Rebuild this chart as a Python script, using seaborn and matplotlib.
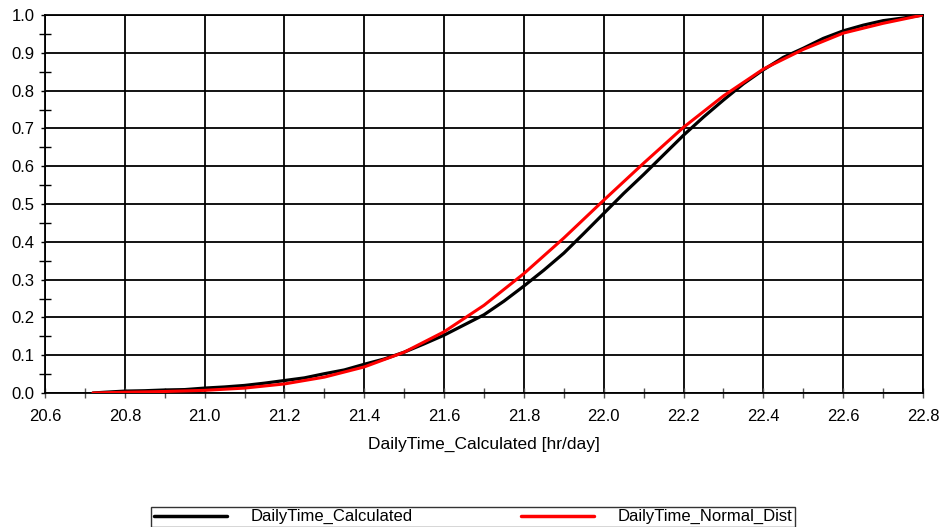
import matplotlib
matplotlib.use("Agg")
import matplotlib.pyplot as plt
from matplotlib.ticker import MultipleLocator, FormatStrFormatter
import seaborn as sns
import pandas as pd

# ---- data ----
calc_x = [20.72, 20.75, 20.8, 20.85, 20.9, 20.95, 21.0, 21.05, 21.1, 21.15, 21.2, 21.25,
          21.3, 21.35, 21.4, 21.45, 21.5, 21.55, 21.6, 21.65, 21.7, 21.75, 21.8, 21.85,
          21.9, 21.95, 22.0, 22.05, 22.1, 22.15, 22.2, 22.25, 22.3, 22.35, 22.4, 22.45,
          22.5, 22.55, 22.6, 22.65, 22.7, 22.75, 22.8]
calc_y = [0.0, 0.002, 0.005, 0.006, 0.008, 0.009, 0.013, 0.016, 0.020, 0.026, 0.033, 0.040,
          0.051, 0.061, 0.076, 0.090, 0.108, 0.130, 0.153, 0.180, 0.207, 0.243, 0.283, 0.325,
          0.370, 0.422, 0.475, 0.528, 0.578, 0.630, 0.682, 0.730, 0.775, 0.818, 0.855, 0.888,
          0.912, 0.938, 0.958, 0.973, 0.985, 0.992, 1.0]

norm_x = [20.72, 20.8, 20.9, 21.0, 21.1, 21.2, 21.3, 21.4, 21.5, 21.6, 21.7, 21.8,
          21.9, 22.0, 22.1, 22.2, 22.3, 22.4, 22.5, 22.6, 22.7, 22.8]
norm_y = [0.0, 0.002, 0.004, 0.007, 0.013, 0.024, 0.042, 0.069, 0.108, 0.162, 0.232, 0.316,
          0.410, 0.510, 0.608, 0.703, 0.786, 0.857, 0.909, 0.952, 0.978, 1.0]

series_names = ["DailyTime_Calculated", "DailyTime_Normal_Dist"]
series_colors = ["#000000", "#ff0000"]
x_label = "DailyTime_Calculated [hr/day]"

sns.set_style("white")
plt.rcParams["font.family"] = ["Liberation Sans", "DejaVu Sans"]
plt.rcParams["text.color"] = "black"
plt.rcParams["axes.labelcolor"] = "black"

fig = plt.figure(figsize=(9.47, 5.27), dpi=100)
ax = fig.add_axes([45 / 947, 1 - 393 / 527, 878 / 947, 378 / 527])

df_calc = pd.DataFrame({"x": calc_x, "y": calc_y})
df_norm = pd.DataFrame({"x": norm_x, "y": norm_y})
sns.lineplot(data=df_calc, x="x", y="y", ax=ax, color=series_colors[0], lw=2.3,
             label=series_names[0], sort=False, zorder=3)
sns.lineplot(data=df_norm, x="x", y="y", ax=ax, color=series_colors[1], lw=2.2,
             label=series_names[1], sort=False, zorder=4)

ax.set_xlim(20.6, 22.8)
ax.set_ylim(0, 1.0)
ax.xaxis.set_major_locator(MultipleLocator(0.2))
ax.xaxis.set_minor_locator(MultipleLocator(0.1))
ax.yaxis.set_major_locator(MultipleLocator(0.1))
ax.yaxis.set_minor_locator(MultipleLocator(0.05))
ax.xaxis.set_major_formatter(FormatStrFormatter("%.1f"))
ax.yaxis.set_major_formatter(FormatStrFormatter("%.1f"))

ax.grid(True, which="major", color="black", lw=1.3)
ax.tick_params(axis="x", which="both", direction="inout", length=7, width=1.0,
               color="#555555", labelcolor="black", labelsize=12, pad=8)
ax.tick_params(axis="y", which="major", direction="out", length=3, width=1.0,
               color="black", labelcolor="black", labelsize=12, pad=4.5)
ax.tick_params(axis="y", which="minor", direction="inout", length=8, width=1.0, color="black")
ax.tick_params(bottom=True, left=True, which="both")
for s in ax.spines.values():
    s.set_color("black")
    s.set_linewidth(1.3)

ax.set_xlabel(x_label, fontsize=12.5, labelpad=9, color="black")
ax.set_ylabel("")

ax.legend_.remove()
handles, labels = ax.get_legend_handles_labels()
leg = fig.legend(handles, labels, loc="lower center", bbox_to_anchor=(0.4995, 0.0),
                 ncol=2, frameon=True, fancybox=False, edgecolor="black",
                 fontsize=12, handlelength=4.4, columnspacing=6.5, borderpad=0.15,
                 handletextpad=1.4, borderaxespad=0.0, labelcolor="black")
leg.get_frame().set_linewidth(1.0)
for line in leg.get_lines():
    line.set_linewidth(2.5)

fig.savefig("out.png", dpi=100)
